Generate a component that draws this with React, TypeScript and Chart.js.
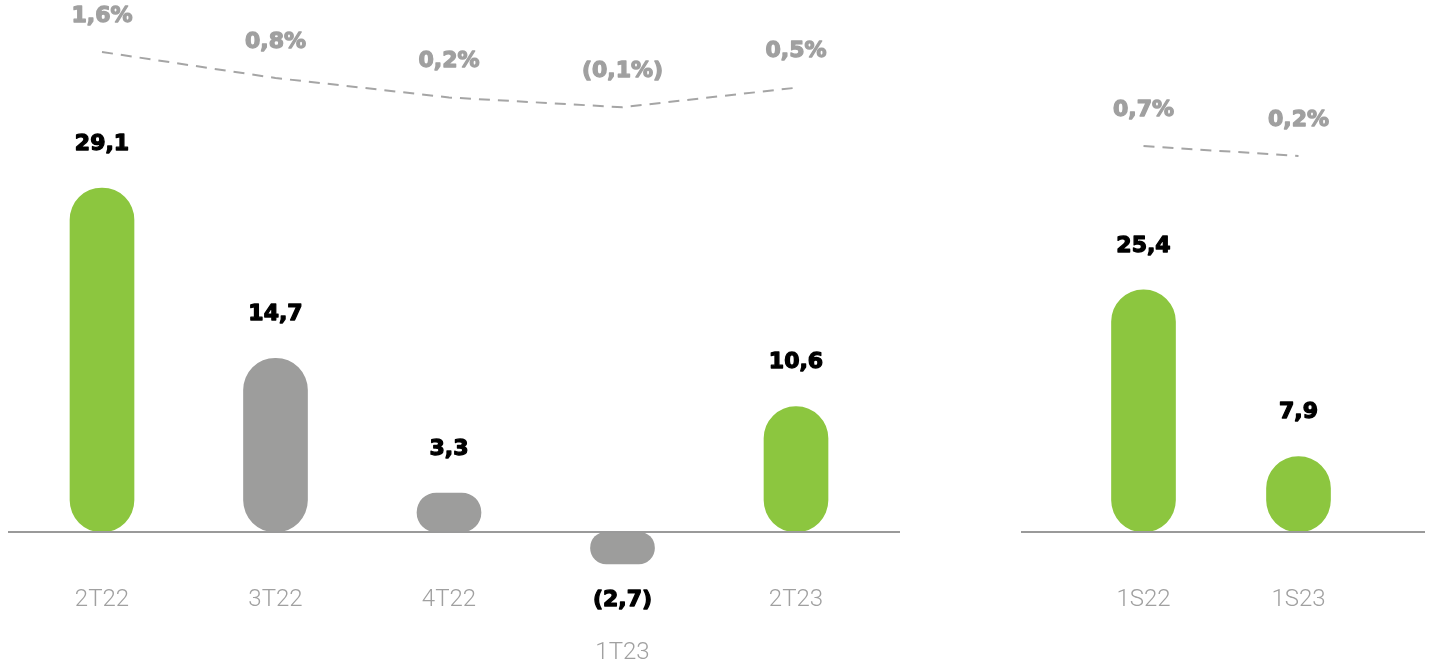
import React, { useEffect, useRef } from 'react';
import { Chart, registerables } from 'chart.js';

Chart.register(...registerables);

// ---- Data ----
const quarterLabels = ['2T22', '3T22', '4T22', '1T23', '2T23'];
const quarterValues = [29.1, 14.7, 3.3, -2.7, 10.6];
const quarterMargins = [1.6, 0.8, 0.2, -0.1, 0.5];
const quarterHighlight = [true, false, false, false, true];

const semesterLabels = ['1S22', '1S23'];
const semesterValues = [25.4, 7.9];
const semesterMargins = [0.7, 0.2];
const semesterHighlight = [true, true];

// ---- Styles ----
const GREEN = '#8cc63f';
const GRAY_BAR = '#9d9d9c';
const GRAY_TEXT = '#a0a0a0';
const NUM_FONT = '"DejaVu Sans", sans-serif';

const fmt = (v: number, suffix = '') => {
  const s = Math.abs(v).toFixed(1).replace('.', ',') + suffix;
  return v < 0 ? `(${s})` : s;
};

interface PanelOpts {
  yMax: number;
  y2Min: number;
  y2Max: number;
  padLeft: number;
  padRight: number;
  lineLeft: number;
  lineRight: number;
}

function heavyText(ctx: CanvasRenderingContext2D, text: string, x: number, y: number, color: string) {
  ctx.fillStyle = color;
  ctx.strokeStyle = color;
  ctx.lineWidth = 1.3;
  ctx.lineJoin = 'round';
  ctx.fillText(text, x, y);
  ctx.strokeText(text, x, y);
}

function buildConfig(
  labels: string[],
  values: number[],
  margins: number[],
  highlight: boolean[],
  o: PanelOpts
): any {
  const labelPlugin = {
    id: 'panelLabels',
    afterDatasetsDraw(chart: any) {
      const { ctx, chartArea } = chart;
      const zero = chart.scales.y.getPixelForValue(0);
      ctx.save();
      ctx.strokeStyle = '#9a9a9a';
      ctx.lineWidth = 2;
      ctx.setLineDash([]);
      ctx.beginPath();
      ctx.moveTo(chartArea.left - o.lineLeft, zero);
      ctx.lineTo(chartArea.right + o.lineRight, zero);
      ctx.stroke();

      const barMeta = chart.getDatasetMeta(0);
      const lineMeta = chart.getDatasetMeta(1);
      ctx.textAlign = 'center';
      ctx.textBaseline = 'middle';
      ctx.font = `bold 22px ${NUM_FONT}`;
      barMeta.data.forEach((el: any, i: number) => {
        const v = values[i];
        const ty = v >= 0 ? el.y - 44 : zero + 68;
        heavyText(ctx, fmt(v), el.x, ty, '#000000');
      });
      lineMeta.data.forEach((pt: any, i: number) => {
        heavyText(ctx, fmt(margins[i], '%'), pt.x, pt.y - 36, GRAY_TEXT);
      });
      ctx.restore();
    },
  };

  return {
    type: 'bar',
    data: {
      labels,
      datasets: [
        {
          type: 'bar',
          data: values,
          yAxisID: 'y',
          backgroundColor: highlight.map((h) => (h ? GREEN : GRAY_BAR)),
          borderRadius: 40,
          borderSkipped: false,
          barThickness: 64,
          clip: false,
          order: 2,
        },
        {
          type: 'line',
          data: margins,
          yAxisID: 'y2',
          borderColor: '#a5a5a5',
          borderWidth: 2,
          borderDash: [11, 8],
          pointRadius: 0,
          tension: 0,
          fill: false,
          clip: false,
          order: 1,
        },
      ],
    },
    options: {
      responsive: false,
      animation: false,
      devicePixelRatio: 1,
      layout: { padding: { left: o.padLeft, right: o.padRight, top: 0, bottom: 0 } },
      plugins: { legend: { display: false }, tooltip: { enabled: false } },
      scales: {
        x: {
          grid: { display: false, drawTicks: false },
          border: { display: false },
          ticks: {
            color: GRAY_TEXT,
            padding: 41.5,
            maxRotation: 0,
            autoSkip: false,
            font: { family: 'Roboto', size: 24, weight: '300', lineHeight: '53px' },
            callback: (_v: any, i: number) => (values[i] < 0 ? ['', labels[i]] : labels[i]),
          },
          afterFit: (s: any) => {
            s.height = 132;
          },
        },
        y: { display: false, min: 0, max: o.yMax },
        y2: { display: false, min: o.y2Min, max: o.y2Max, position: 'right' },
      },
    },
    plugins: [labelPlugin],
  };
}

function Panel(props: {
  left: number;
  width: number;
  labels: string[];
  values: number[];
  margins: number[];
  highlight: boolean[];
  opts: PanelOpts;
}) {
  const ref = useRef<HTMLCanvasElement>(null);
  useEffect(() => {
    if (!ref.current) return;
    const chart = new Chart(
      ref.current,
      buildConfig(props.labels, props.values, props.margins, props.highlight, props.opts)
    );
    return () => chart.destroy();
  }, []);
  return (
    <canvas
      ref={ref}
      width={props.width}
      height={664}
      style={{ position: 'absolute', left: props.left, top: 0, width: props.width, height: 664 }}
    />
  );
}

export default function App() {
  return (
    <div style={{ position: 'fixed', left: 0, top: 0, width: 1430, height: 664, background: '#ffffff' }}>
      <Panel
        left={0}
        width={910}
        labels={quarterLabels}
        values={quarterValues}
        margins={quarterMargins}
        highlight={quarterHighlight}
        opts={{ yMax: 45.0, y2Min: -13.17, y2Max: 3.2, padLeft: 15.25, padRight: 27.25, lineLeft: 7.25, lineRight: 17.25 }}
      />
      <Panel
        left={960}
        width={470}
        labels={semesterLabels}
        values={semesterValues}
        margins={semesterMargins}
        highlight={semesterHighlight}
        opts={{ yMax: 55.8, y2Min: -18.6, y2Max: 8, padLeft: 106, padRight: 54, lineLeft: 45, lineRight: 49 }}
      />
    </div>
  );
}
